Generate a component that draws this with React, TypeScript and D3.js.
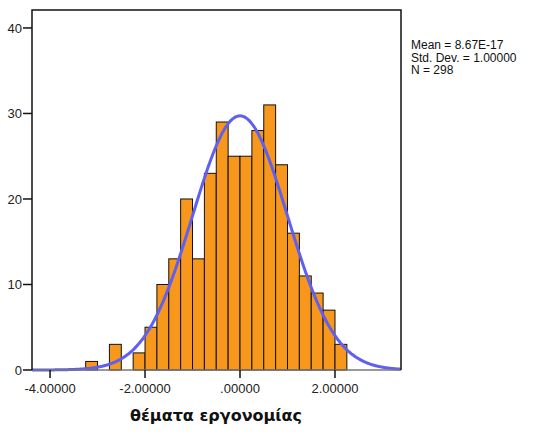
import React from 'react';
import * as d3 from 'd3';

// histogram bins (left edges) and counts
const binEdges = [-3.25, -3.0, -2.75, -2.5, -2.25, -2.0, -1.75, -1.5, -1.25, -1.0, -0.75, -0.5, -0.25, 0.0, 0.25, 0.5, 0.75, 1.0, 1.25, 1.5, 1.75, 2.0];
const binWidth = 0.25;
const counts = [1, 0, 3, 0, 2, 5, 10, 13, 20, 13, 23, 29, 25, 25, 28, 31, 24, 16, 11, 9, 7, 3];

const xTicks = [-4, -2, 0, 2];
const xTickLabels = ['-4.00000', '-2.00000', '.00000', '2.00000'];
const yTicks = [0, 10, 20, 30, 40];

const mean = 0;
const sd = 1;
const n = 298;
const legendLines = ['Mean = 8.67E-17', 'Std. Dev. = 1.00000', 'N = 298'];
const xTitle = 'θέματα εργονομίας';

const width = 536;
const height = 434;
const left = 32;
const right = 401;
const top = 10;
const bottom = 370;

export default function App() {
  const x = d3.scaleLinear().domain([-4.38, 3.39]).range([left, right]);
  const y = d3.scaleLinear().domain([0, 42.1]).range([bottom, top]);

  const pdf = (v: number) => Math.exp(-0.5 * ((v - mean) / sd) ** 2) / (sd * Math.sqrt(2 * Math.PI));
  const curvePts = d3.range(-4.38, 3.3901, 0.02).map(v => [v, n * binWidth * pdf(v)] as [number, number]);
  const curve = d3.line<[number, number]>()
    .x(d => x(d[0]))
    .y(d => y(d[1]))
    .curve(d3.curveBasis)(curvePts);

  const font = 'Arial, "Liberation Sans", sans-serif';

  return (
    <svg width={width} height={height} style={{ position: 'absolute', left: 0, top: 0, background: '#fff' }}>
      {binEdges.map((b, i) => counts[i] > 0 && (
        <rect key={i}
          x={x(b)} y={y(counts[i])}
          width={x(b + binWidth) - x(b)} height={y(0) - y(counts[i])}
          fill="#f7981d" stroke="#111" strokeWidth={1} />
      ))}
      <path d={curve || ''} fill="none" stroke="#5f5ff2" strokeWidth={3} />
      {/* frame */}
      <line x1={left} x2={right} y1={bottom} y2={bottom} stroke="#777" strokeWidth={1.5} />
      <path d={`M${left},${bottom}V${top}H${right}V${bottom}`} fill="none" stroke="#111" strokeWidth={1.5} />
      {yTicks.map(t => (
        <g key={t}>
          <line x1={left - 9} x2={left} y1={y(t)} y2={y(t)} stroke="#111" strokeWidth={1.5} />
          <text x={left - 10} y={y(t)} dy="0.35em" textAnchor="end" fontSize={13} fontFamily={font} fill="#222">{t}</text>
        </g>
      ))}
      {xTicks.map((t, i) => (
        <g key={t}>
          <line x1={x(t)} x2={x(t)} y1={bottom} y2={bottom + 8} stroke="#111" strokeWidth={1.5} />
          <text x={x(t)} y={bottom + 23} textAnchor="middle" fontSize={13} fontFamily={font} fill="#222">{xTickLabels[i]}</text>
        </g>
      ))}
      <text x={216} y={421} textAnchor="middle" fontSize={16} fontWeight="bold" fontFamily='"DejaVu Sans", sans-serif' fill="#111">{xTitle}</text>
      {legendLines.map((l, i) => (
        <text key={i} x={411} y={49 + i * 12.5} fontSize={12} fontFamily={font} fill="#111">{l}</text>
      ))}
    </svg>
  );
}
